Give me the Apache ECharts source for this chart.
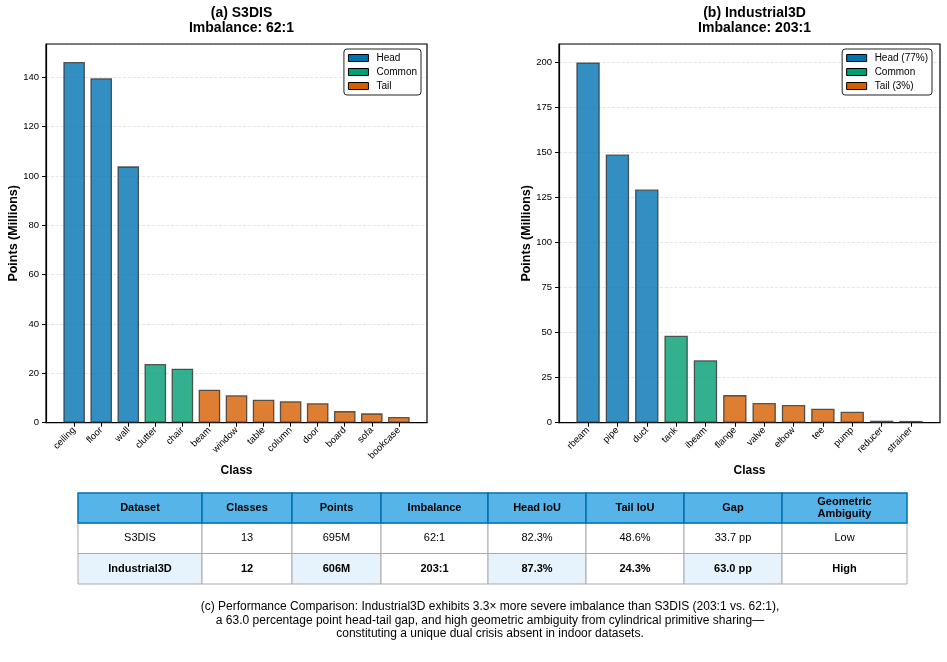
<!DOCTYPE html>
<html>
<head>
<meta charset="utf-8">
<script src="https://cdn.jsdelivr.net/npm/echarts@6/dist/echarts.min.js"></script>
<style>
html,body{margin:0;padding:0;background:#fff;}
#chart{width:947px;height:662px;}
</style>
</head>
<body>
<div id="chart"></div>
<script>
// ---------------- DATA ----------------
const s3Classes = ['ceiling','floor','wall','clutter','chair','beam','window','table','column','door','board','sofa','bookcase'];
const s3Values  = [146.2, 139.6, 103.9, 23.8, 21.9, 13.4, 11.1, 9.3, 8.7, 7.9, 4.7, 3.8, 2.3];
const s3Groups  = ['head','head','head','common','common','tail','tail','tail','tail','tail','tail','tail','tail'];

const indClasses = ['rbeam','pipe','duct','tank','ibeam','flange','valve','elbow','tee','pump','reducer','strainer'];
const indValues  = [199.8, 148.7, 129.3, 48.2, 34.6, 15.3, 10.9, 9.8, 7.8, 6.1, 1.1, 0.98];
const indGroups  = ['head','head','head','common','common','tail','tail','tail','tail','tail','tail','tail'];

const s3LegendNames  = {head:'Head', common:'Common', tail:'Tail'};
const indLegendNames = {head:'Head (77%)', common:'Common', tail:'Tail (3%)'};

const tableHeaders = ['Dataset','Classes','Points','Imbalance','Head IoU','Tail IoU','Gap','Geometric\nAmbiguity'];
const tableRows = [
  ['S3DIS','13','695M','62:1','82.3%','48.6%','33.7 pp','Low'],
  ['Industrial3D','12','606M','203:1','87.3%','24.3%','63.0 pp','High']
];
const captionText = '(c) Performance Comparison: Industrial3D exhibits 3.3\u00d7 more severe imbalance than S3DIS (203:1 vs. 62:1),\n' +
  'a 63.0 percentage point head-tail gap, and high geometric ambiguity from cylindrical primitive sharing\u2014\n' +
  'constituting a unique dual crisis absent in indoor datasets.';

// ---------------- STYLE ----------------
const FONT = '"Liberation Sans", Arial, sans-serif';
const groupColors = {head:'#0072B2', common:'#009E73', tail:'#D55E00'};
const groupOrder = ['head','common','tail'];

function makeSeries(values, groups, names, axisIdx, barW) {
  return groupOrder.map(g => ({
    type: 'bar',
    name: names[g],
    xAxisIndex: axisIdx,
    yAxisIndex: axisIdx,
    stack: 'all' + axisIdx,
    barWidth: barW,
    itemStyle: {color: groupColors[g], opacity: 0.8, borderColor: '#333', borderWidth: 1.3},
    emphasis: {disabled: true},
    data: values.map((v, i) => groups[i] === g ? [i, v] : null).filter(d => d !== null)
  }));
}

function makeLegend(names, right) {
  return {
    orient: 'vertical',
    right: right,
    top: 49,
    backgroundColor: '#fff',
    borderColor: '#222',
    borderWidth: 1,
    borderRadius: 3,
    padding: [3, 4, 3, 4],
    itemWidth: 20,
    itemHeight: 7,
    itemGap: 2,
    icon: 'rect',
    selectedMode: false,
    textStyle: {fontFamily: FONT, fontSize: 10, color: '#000', padding: [0, 0, 0, 3], lineHeight: 12},
    data: groupOrder.map(g => ({
      name: names[g],
      itemStyle: {color: groupColors[g], opacity: 1, borderColor: '#000', borderWidth: 1}
    }))
  };
}

function makeXAxis(idx, classes) {
  const n = classes.length;
  const pad = 0.4 + 0.05 * (n - 1 + 0.8);
  const ticks = classes.map((c, i) => i);
  return {
    type: 'value',
    gridIndex: idx,
    min: -pad,
    max: n - 1 + pad,
    name: 'Class',
    nameLocation: 'middle',
    nameGap: 42,
    nameMoveOverlap: false,
    nameTextStyle: {fontFamily: FONT, fontSize: 12, fontWeight: 'bold', color: '#000'},
    axisLine: {show: true, onZero: false, lineStyle: {color: '#000', width: 1.2}},
    axisTick: {show: true, inside: false, length: 4, lineStyle: {color: '#000'}, customValues: ticks},
    axisLabel: {
      customValues: ticks,
      rotate: 45, fontSize: 9.5, fontFamily: FONT, color: '#000', margin: 6,
      formatter: v => classes[Math.round(v)] || ''
    },
    splitLine: {show: false}
  };
}

function makeYAxis(idx, max, interval) {
  return {
    type: 'value',
    gridIndex: idx,
    min: 0,
    max: max,
    interval: interval,
    name: 'Points (Millions)',
    nameLocation: 'middle',
    nameGap: 26,
    nameMoveOverlap: false,
    nameTextStyle: {fontFamily: FONT, fontSize: 12.5, fontWeight: 'bold', color: '#000'},
    axisLine: {show: true, onZero: false, lineStyle: {color: '#000', width: 1.2}},
    axisTick: {show: true, inside: false, length: 4, lineStyle: {color: '#000'}},
    axisLabel: {fontSize: 9.5, fontFamily: FONT, color: '#000', margin: 7, showMaxLabel: false},
    splitLine: {show: true, lineStyle: {color: 'rgba(0,0,0,0.12)', type: 'dashed', width: 0.8}}
  };
}

// ---------------- TABLE (graphic) ----------------
const colW = [124, 90, 89, 107, 98, 98, 98, 125];
const tableX = 78, tableY = 493, headH = 30, rowH = 30.5;
const graphics = [];
(function buildTable(){
  let x = tableX;
  const xs = [];
  colW.forEach(w => { xs.push(x); x += w; });
  tableHeaders.forEach((h, c) => {
    graphics.push({type:'rect', shape:{x:xs[c], y:tableY, width:colW[c], height:headH},
      style:{fill:'#56B4E9', stroke:'#0072B2', lineWidth:1.5}, z:10});
    graphics.push({type:'text', x:xs[c]+colW[c]/2, y:tableY+headH/2, z:12,
      style:{text:h, align:'center', verticalAlign:'middle', fill:'#000',
        font:'bold 11px ' + FONT, lineHeight:11.5}});
  });
  tableRows.forEach((row, r) => {
    const y = tableY + headH + r * rowH;
    row.forEach((val, c) => {
      const fill = (r === 1 && c % 2 === 0) ? '#E6F3FC' : '#FFFFFF';
      graphics.push({type:'rect', shape:{x:xs[c], y:y, width:colW[c], height:rowH},
        style:{fill:fill, stroke:'#AAAAAA', lineWidth:1}, z:9});
      graphics.push({type:'text', x:xs[c]+colW[c]/2, y:y+rowH/2, z:12,
        style:{text:val, align:'center', verticalAlign:'middle', fill:'#000',
          font:(r === 1 ? 'bold ' : '') + '11px ' + FONT}});
    });
  });
  graphics.push({type:'text', x:490, y:600, z:12,
    style:{text:captionText, align:'center', verticalAlign:'top', fill:'#000',
      font:'12px ' + FONT, lineHeight:13.6}});
})();

// ---------------- OPTION ----------------
const option = {
  animation: false,
  backgroundColor: '#fff',
  textStyle: {fontFamily: FONT},
  title: [
    {text: '(a) S3DIS\nImbalance: 62:1', left: 236.5, top: 1, textAlign: 'center',
     textStyle: {fontFamily: FONT, fontSize: 14, fontWeight: 'bold', color: '#000', lineHeight: 14.7}},
    {text: '(b) Industrial3D\nImbalance: 203:1', left: 749.5, top: 1, textAlign: 'center',
     textStyle: {fontFamily: FONT, fontSize: 14, fontWeight: 'bold', color: '#000', lineHeight: 14.7}}
  ],
  legend: [makeLegend(s3LegendNames, 526), makeLegend(indLegendNames, 15)],
  grid: [
    {left: 46, top: 44, width: 381, height: 378.7, show: true, borderColor: '#000', borderWidth: 1.2, containLabel: false},
    {left: 559, top: 44, width: 381, height: 378.7, show: true, borderColor: '#000', borderWidth: 1.2, containLabel: false}
  ],
  xAxis: [makeXAxis(0, s3Classes), makeXAxis(1, indClasses)],
  yAxis: [makeYAxis(0, 153.5, 20), makeYAxis(1, 210, 25)],
  series: [
    ...makeSeries(s3Values, s3Groups, s3LegendNames, 0, 21.6),
    ...makeSeries(indValues, indGroups, indLegendNames, 1, 23.4)
  ],
  graphic: graphics
};

const chart = echarts.init(document.getElementById('chart'), null, {renderer: 'canvas'});
chart.setOption(option);
</script>
</body>
</html>
